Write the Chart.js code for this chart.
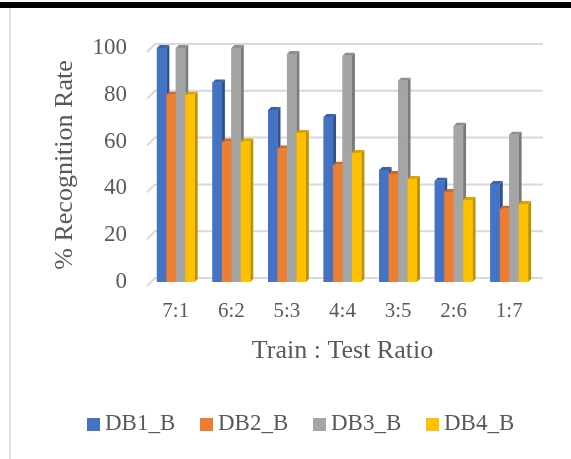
<!DOCTYPE html>
<html lang="en">
<head>
  <meta charset="UTF-8">
  <title>Recognition Rate by Train : Test Ratio</title>
  <style>
    body {
      margin: 0;
      padding: 0;
      background: #fff;
      font-family: 'Liberation Serif', 'Times New Roman', serif;
    }
    #wrap {
      position: relative;
      width: 571px;
      height: 459px;
      overflow: hidden;
    }
    #topbar {
      position: absolute;
      left: 0; top: 2px;
      width: 571px; height: 6px;
      background: #000;
    }
    #leftline {
      position: absolute;
      left: 9px; top: 8px;
      width: 2px; height: 451px;
      background: #e3e3e3;
    }
    canvas { position: absolute; left: 0; top: 0; }
    #legend {
      position: absolute;
      top: 408px;
      left: 0;
      width: 571px;
      height: 30px;
    }
    .item {
      position: absolute;
      top: 0;
      height: 30px;
      line-height: 30px;
      font-size: 23px;
      color: #595959;
      white-space: nowrap;
    }
    .item span.box {
      position: absolute;
      left: 0;
      top: 10px;
      width: 13px;
      height: 13px;
    }
    .item span.txt {
      position: absolute;
      left: 18px;
      top: 0;
    }
  </style>
</head>
<body>
<div id="wrap">
  <div id="topbar"></div>
  <div id="leftline"></div>
  <canvas id="chart" width="571" height="459"></canvas>
  <div id="legend"></div>
</div>

<script src="https://cdn.jsdelivr.net/npm/chart.js"></script>
<script>
  // ratios on the x axis
  const ratios = ['7:1', '6:2', '5:3', '4:4', '3:5', '2:6', '1:7'];

  // % recognition rate per database
  const db1 = [100, 85.3, 73.5, 70.5, 47.9, 43.3, 41.9];
  const db2 = [80, 60, 57.1, 50.1, 46.2, 38.5, 31.3];
  const db3 = [100, 100, 97.4, 96.7, 86, 66.8, 62.9];
  const db4 = [80, 60, 63.7, 55.1, 44, 35, 33.3];

  const yTicks = [0, 20, 40, 60, 80, 100];

  const seriesNames = ['DB1_B', 'DB2_B', 'DB3_B', 'DB4_B'];
  const faceColors = ['#4472C4', '#ED7D31', '#A5A5A5', '#FFC000'];
  const sideColors = ['#2F528F', '#AE5A21', '#7B7B7B', '#BF9000'];
  const topColors = ['#3A62A9', '#CC6A28', '#8E8E8E', '#DBA500'];

  const serif = "'Liberation Serif', 'Times New Roman', serif";
  const depth = 3;

  // back-wall gridlines, shifted up/right like the 3D original
  const wallGrid = {
    id: 'wallGrid',
    beforeDatasetsDraw(chart) {
      const ctx = chart.ctx;
      const y = chart.scales.y;
      const a = chart.chartArea;
      ctx.save();
      ctx.strokeStyle = '#d9d9d9';
      ctx.lineWidth = 2;
      yTicks.forEach(v => {
        const py = y.getPixelForValue(v);
        ctx.beginPath();
        ctx.moveTo(a.left - 1, py + 4);
        ctx.lineTo(a.left + 7, py - 4);
        ctx.lineTo(a.right + 6, py - 4);
        ctx.stroke();
      });
      ctx.restore();
    }
  };

  // fake 3D look: side + top faces, then redraw the front face
  const bar3d = {
    id: 'bar3d',
    afterDatasetsDraw(chart) {
      const ctx = chart.ctx;
      const metas = chart.data.datasets.map((d, i) => chart.getDatasetMeta(i));
      ctx.save();
      for (let j = 0; j < ratios.length; j++) {
        metas.forEach((meta, i) => {
          const b = meta.data[j];
          const l = b.x - b.width / 2, r = b.x + b.width / 2;
          const top = b.y, base = b.base;
          ctx.fillStyle = sideColors[i];
          ctx.beginPath();
          ctx.moveTo(r, top);
          ctx.lineTo(r + depth, top - depth);
          ctx.lineTo(r + depth, base - depth);
          ctx.lineTo(r, base);
          ctx.closePath();
          ctx.fill();
          ctx.fillStyle = topColors[i];
          ctx.beginPath();
          ctx.moveTo(l, top);
          ctx.lineTo(l + depth, top - depth);
          ctx.lineTo(r + depth, top - depth);
          ctx.lineTo(r, top);
          ctx.closePath();
          ctx.fill();
          ctx.fillStyle = faceColors[i];
          ctx.fillRect(l, top, r - l, base - top);
        });
      }
      ctx.restore();
    }
  };

  const values = [db1, db2, db3, db4];

  new Chart(document.getElementById('chart'), {
    type: 'bar',
    data: {
      labels: ratios,
      datasets: seriesNames.map((name, i) => ({
        label: name,
        data: values[i],
        backgroundColor: faceColors[i],
        borderWidth: 0,
        categoryPercentage: 0.68,
        barPercentage: 1
      }))
    },
    plugins: [wallGrid, bar3d],
    options: {
      responsive: false,
      animation: false,
      devicePixelRatio: 1,
      layout: {
        padding: { left: 50, right: 34, top: 48, bottom: 93 }
      },
      plugins: {
        tooltip: { enabled: false },
        legend: { display: false }
      },
      scales: {
        x: {
          grid: { display: false },
          border: { display: false },
          afterFit(scale) { scale.height = 84; },
          ticks: {
            color: '#595959',
            padding: 9,
            font: { family: serif, size: 21, lineHeight: 1.2 }
          },
          title: {
            display: true,
            text: 'Train : Test Ratio',
            color: '#595959',
            padding: { top: 12, bottom: 0 },
            font: { family: serif, size: 26, lineHeight: 1.15 }
          }
        },
        y: {
          min: 0,
          max: 100,
          afterBuildTicks(scale) {
            scale.ticks = yTicks.map(v => ({ value: v }));
          },
          afterFit(scale) { scale.width = 98; },
          ticks: {
            color: '#595959',
            padding: 21,
            font: { family: serif, size: 23 }
          },
          grid: { display: false, drawTicks: false },
          border: { display: false },
          title: {
            display: true,
            text: '% Recognition Rate',
            color: '#595959',
            padding: { top: 0, bottom: 0 },
            font: { family: serif, size: 26, lineHeight: 1.2 }
          }
        }
      }
    }
  });

  // legend as plain text, spaced like the original
  const legend = document.getElementById('legend');
  const legendX = [87, 200, 313, 426];
  seriesNames.forEach((name, i) => {
    const item = document.createElement('div');
    item.className = 'item';
    item.style.left = legendX[i] + 'px';
    item.innerHTML = '<span class="box" style="background:' + faceColors[i] + '"></span>' +
      '<span class="txt">' + name + '</span>';
    legend.appendChild(item);
  });
</script>
</body>
</html>
